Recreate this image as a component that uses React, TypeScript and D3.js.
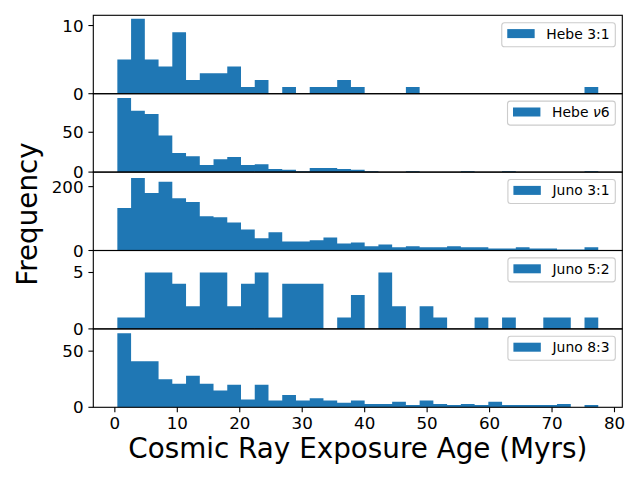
import React, { useEffect, useRef } from "react";
import * as d3 from "d3";

// Histogram bins shared by all panels
const binStart = 0.4;
const binWidth = 2.2;

const labels = ["Hebe 3:1", "Hebe ν6", "Juno 3:1", "Juno 5:2", "Juno 8:3"];

const hebe31 = [5, 11, 5, 4, 9, 2, 3, 3, 4, 1, 2, 0, 1, 0, 1, 1, 2, 1, 0, 0, 0, 1, 0, 0, 0, 0, 0, 0, 0, 0, 0, 0, 0, 0, 1];
const hebeNu6 = [93, 77, 73, 46, 24, 20, 9, 16, 19, 9, 10, 4, 3, 1, 5, 5, 4, 3, 1, 0, 0, 1, 0, 0, 0, 1, 0, 0, 1, 0, 0, 0, 0, 0, 1];
const juno31 = [133, 227, 180, 215, 164, 152, 107, 104, 88, 66, 38, 57, 28, 28, 32, 41, 22, 25, 13, 19, 10, 13, 10, 10, 13, 10, 10, 6, 6, 10, 6, 6, 3, 3, 10];
const juno52 = [1, 1, 5, 5, 4, 2, 5, 5, 2, 4, 5, 1, 4, 4, 4, 0, 1, 3, 0, 5, 2, 0, 2, 1, 0, 0, 1, 0, 1, 0, 0, 1, 1, 0, 1];
const juno83 = [66, 41, 41, 25, 21, 28, 21, 15, 20, 7, 20, 6, 11, 6, 8, 6, 4, 6, 3, 3, 5, 2, 6, 3, 2, 3, 2, 5, 2, 2, 2, 2, 3, 0, 2];

const series = [hebe31, hebeNu6, juno31, juno52, juno83];
const yMax = [11.5, 98.4, 245.5, 6.95, 69.8];
const yTicks = [[0, 10], [0, 50], [0, 200], [0, 5], [0, 50]];
const xTicks = [0, 10, 20, 30, 40, 50, 60, 70, 80];
const xDomain = [-3.45, 81.25];

const xLabel = "Cosmic Ray Exposure Age (Myrs)";
const yLabel = "Frequency";

const W = 640, H = 480;
const left = 93.3, right = 622.3, top = 15.3, panelH = 78.4;
const color = "#1f77b4";
const font = "DejaVu Sans, sans-serif";

export default function App() {
  const ref = useRef<SVGSVGElement>(null);
  useEffect(() => {
    const svg = d3.select(ref.current);
    svg.selectAll("*").remove();
    const x = d3.scaleLinear().domain(xDomain).range([left, right]);

    series.forEach((vals, p) => {
      const y0 = top + p * panelH;
      const y1 = y0 + panelH;
      const y = d3.scaleLinear().domain([0, yMax[p]]).range([y1, y0]);
      const g = svg.append("g");
      const path = d3.path();
      vals.forEach((v, i) => {
        if (v <= 0) return;
        const a = binStart + i * binWidth;
        const xa = x(a), xb = x(a + binWidth);
        path.rect(xa, y(v), xb - xa, y(0) - y(v));
      });
      g.append("path").attr("d", path.toString()).attr("fill", color);

      // spines
      g.append("rect")
        .attr("x", left).attr("y", y0)
        .attr("width", right - left).attr("height", panelH)
        .attr("fill", "none").attr("stroke", "#000").attr("stroke-width", 1.1);

      // y ticks
      yTicks[p].forEach((t) => {
        const ty = y(t);
        g.append("line").attr("x1", left - 4.9).attr("x2", left)
          .attr("y1", ty).attr("y2", ty)
          .attr("stroke", "#000").attr("stroke-width", 1.1);
        g.append("text").attr("x", left - 9.7).attr("y", ty + 6)
          .attr("text-anchor", "end")
          .attr("font-family", font).attr("font-size", 16.7)
          .attr("fill", "#000").text(String(t));
      });

      // legend
      const boxRight = right - 7;
      const boxTop = y0 + 7.4;
      const lg = g.append("g");
      const txt = lg.append("text")
        .attr("y", boxTop + 15.8)
        .attr("font-family", font).attr("font-size", 13.9)
        .attr("fill", "#000");
      const lab = labels[p];
      if (lab.includes("ν")) {
        const [pre, post] = lab.split("ν");
        txt.append("tspan").text(pre);
        txt.append("tspan").attr("font-style", "italic").text("ν");
        txt.append("tspan").text(post);
      } else {
        txt.text(lab);
      }
      const tw = (txt.node() as SVGTextElement).getComputedTextLength();
      const textX = boxRight - 5.8 - tw;
      txt.attr("x", textX);
      const boxLeft = textX - 44.6;
      lg.insert("rect", "text")
        .attr("x", boxLeft).attr("y", boxTop)
        .attr("width", boxRight - boxLeft).attr("height", 24)
        .attr("rx", 2.8)
        .attr("fill", "#fff").attr("fill-opacity", 0.8)
        .attr("stroke", "#cccccc").attr("stroke-width", 1.1);
      lg.insert("rect", "text")
        .attr("x", boxLeft + 5.5).attr("y", boxTop + 6.4)
        .attr("width", 27.4).attr("height", 9)
        .attr("fill", color);

      if (p === series.length - 1) {
        xTicks.forEach((t) => {
          const tx = x(t);
          g.append("line").attr("x1", tx).attr("x2", tx)
            .attr("y1", y1).attr("y2", y1 + 4.9)
            .attr("stroke", "#000").attr("stroke-width", 1.1);
          g.append("text").attr("x", tx).attr("y", y1 + 21.5)
            .attr("text-anchor", "middle")
            .attr("font-family", font).attr("font-size", 16.7)
            .attr("fill", "#000").text(String(t));
        });
      }
    });

    svg.append("text")
      .attr("x", (left + right) / 2).attr("y", 458)
      .attr("text-anchor", "middle")
      .attr("font-family", font).attr("font-size", 27.8)
      .attr("fill", "#000").text(xLabel);

    svg.append("text")
      .attr("transform", `translate(37,214) rotate(-90)`)
      .attr("text-anchor", "middle")
      .attr("font-family", font).attr("font-size", 27.8)
      .attr("fill", "#000").text(yLabel);
  }, []);

  return (
    <svg
      ref={ref}
      width={W}
      height={H}
      viewBox={`0 0 ${W} ${H}`}
      style={{ position: "absolute", left: 0, top: 0, background: "#fff" }}
    />
  );
}
